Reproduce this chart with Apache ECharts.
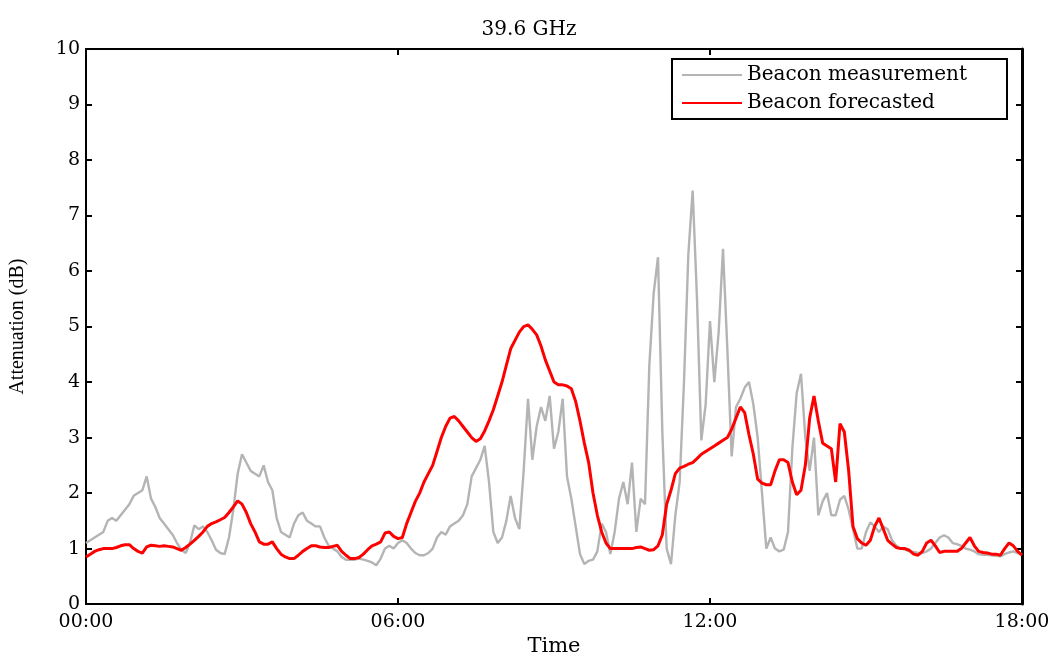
<!DOCTYPE html>
<html>
<head>
<meta charset="utf-8">
<script src="https://cdn.jsdelivr.net/npm/echarts@6/dist/echarts.min.js"></script>
<style>
html,body{margin:0;padding:0;background:#fff;}
#chart{width:1058px;height:662px;}
</style>
</head>
<body>
<div id="chart"></div>
<script>
// Time step of samples in minutes (00:00 -> 18:00)
const stepMinutes = 5;
const xTickLabels = ['00:00', '06:00', '12:00', '18:00'];
const seriesNames = ['Beacon measurement', 'Beacon forecasted'];

// Beacon measurement (dB), one value every 5 minutes
const measurement = [
  1.1, 1.15, 1.2, 1.25, 1.3, 1.5, 1.55, 1.5, 1.6, 1.7, 1.8, 1.95,
  2.0, 2.05, 2.3, 1.9, 1.75, 1.55, 1.45, 1.35, 1.25, 1.1, 0.98, 0.92,
  1.1, 1.42, 1.35, 1.4, 1.3, 1.15, 0.98, 0.92, 0.9, 1.2, 1.7, 2.35,
  2.7, 2.55, 2.4, 2.35, 2.3, 2.5, 2.2, 2.05, 1.55, 1.3, 1.25, 1.2,
  1.45, 1.6, 1.65, 1.5, 1.45, 1.4, 1.4, 1.2, 1.05, 1.0, 0.95, 0.85,
  0.8, 0.8, 0.8, 0.82, 0.8, 0.78, 0.75, 0.7, 0.82, 1.0, 1.05, 1.0,
  1.1, 1.15, 1.1, 1.0, 0.92, 0.88, 0.88, 0.92, 1.0, 1.2, 1.3, 1.25,
  1.4, 1.45, 1.5, 1.6, 1.8, 2.3, 2.45, 2.6, 2.85, 2.2, 1.3, 1.1,
  1.2, 1.5, 1.95, 1.55, 1.35, 2.4, 3.7, 2.6, 3.2, 3.55, 3.3, 3.75,
  2.8, 3.1, 3.7, 2.3, 1.9, 1.4, 0.9, 0.72, 0.78, 0.8, 0.95, 1.45,
  1.3, 0.9, 1.3, 1.9, 2.2, 1.8, 2.55, 1.3, 1.9, 1.8, 4.3, 5.6,
  6.25, 3.1, 1.0, 0.72, 1.6, 2.2, 4.0, 6.3, 7.45, 5.5, 2.95, 3.6,
  5.1, 4.0, 4.9, 6.4, 4.6, 2.66, 3.55, 3.7, 3.9, 4.0, 3.6, 3.0,
  2.0, 1.0, 1.2, 1.0, 0.95, 0.98, 1.3, 2.8, 3.8, 4.15, 3.0, 2.4,
  3.0, 1.6, 1.85, 2.0, 1.6, 1.6, 1.88, 1.95, 1.7, 1.35, 1.0, 1.0,
  1.3, 1.47, 1.4, 1.3, 1.4, 1.35, 1.15, 1.05, 1.0, 0.98, 0.95, 0.94,
  0.92, 0.92, 0.95, 1.0, 1.1, 1.2, 1.24, 1.2, 1.1, 1.08, 1.05, 1.0,
  0.98, 0.95, 0.9, 0.89, 0.89, 0.88, 0.87, 0.86, 0.9, 0.93, 0.95, 0.92,
  0.9
];

// Beacon forecasted (dB), one value every 5 minutes
const forecasted = [
  0.85, 0.9, 0.95, 0.98, 1.0, 1.0, 1.0, 1.02, 1.05, 1.07, 1.07, 1.0,
  0.95, 0.92, 1.03, 1.06, 1.05, 1.04, 1.05, 1.04, 1.03, 1.0, 0.97, 1.02,
  1.08, 1.15, 1.22, 1.3, 1.4, 1.45, 1.48, 1.52, 1.56, 1.65, 1.75, 1.86,
  1.8, 1.65, 1.45, 1.3, 1.12, 1.08, 1.08, 1.12, 1.0, 0.9, 0.85, 0.82,
  0.82, 0.88, 0.95, 1.0, 1.05, 1.05, 1.03, 1.02, 1.02, 1.04, 1.06, 0.95,
  0.88, 0.82, 0.82, 0.84, 0.9, 0.98, 1.05, 1.08, 1.12, 1.28, 1.3, 1.22,
  1.18, 1.2, 1.45, 1.65, 1.85, 2.0, 2.2, 2.35, 2.5, 2.75, 3.0, 3.2,
  3.35, 3.38, 3.3, 3.2, 3.1, 3.0, 2.93, 2.98, 3.12, 3.3, 3.5, 3.75,
  4.0, 4.3, 4.6, 4.75, 4.9, 5.0, 5.03, 4.95, 4.85, 4.65, 4.4, 4.2,
  4.0, 3.95, 3.95, 3.93, 3.88, 3.65, 3.3, 2.9, 2.55, 2.0, 1.6, 1.3,
  1.1, 1.0, 1.0, 1.0, 1.0, 1.0, 1.0, 1.02, 1.03, 1.0, 0.97, 0.98,
  1.05, 1.25, 1.8, 2.05, 2.35, 2.45, 2.48, 2.52, 2.55, 2.62, 2.7, 2.75,
  2.8, 2.85, 2.9, 2.95, 3.0, 3.15, 3.35, 3.55, 3.45, 3.05, 2.7, 2.25,
  2.18, 2.15, 2.15, 2.4, 2.6, 2.6, 2.55, 2.2, 1.97, 2.05, 2.5, 3.35,
  3.75, 3.3, 2.9, 2.85, 2.8, 2.2, 3.25, 3.1, 2.4, 1.4, 1.18, 1.1,
  1.06, 1.15, 1.4, 1.55, 1.35, 1.15, 1.08, 1.02, 1.0, 1.0, 0.97, 0.9,
  0.88, 0.95, 1.1, 1.15, 1.05, 0.93, 0.95, 0.95, 0.95, 0.95, 1.0, 1.1,
  1.2, 1.05, 0.95, 0.93, 0.92, 0.9, 0.9, 0.88, 1.0, 1.1, 1.05, 0.95,
  0.88
];

const toPairs = arr => arr.map((v, i) => [i * stepMinutes, v]);
const fmtTime = m => {
  const idx = Math.round(m / 360);
  return xTickLabels[idx] !== undefined ? xTickLabels[idx] : '';
};

const serif = 'DejaVu Serif';
const chart = echarts.init(document.getElementById('chart'), null, {renderer: 'canvas'});
const xBase = {
  type: 'value', min: 0, max: 1080, interval: 360,
  splitLine: {show: false},
  axisLine: {show: true, onZero: false, lineStyle: {color: '#000', width: 2}},
  axisTick: {show: true, inside: true, length: 6, lineStyle: {color: '#000', width: 2}}
};
const yBase = {
  type: 'value', min: 0, max: 10, interval: 1,
  splitLine: {show: false},
  axisLine: {show: true, onZero: false, lineStyle: {color: '#000', width: 2}},
  axisTick: {show: true, inside: true, length: 6, lineStyle: {color: '#000', width: 2}}
};

chart.setOption({
  animation: false,
  backgroundColor: '#fff',
  title: {
    text: '39.6 GHz', left: 'center', top: 15,
    textStyle: {fontFamily: serif, fontSize: 20, fontWeight: 'normal', color: '#000'}
  },
  legend: {
    orient: 'vertical', left: 672, top: 59,
    data: seriesNames,
    icon: 'rect', itemWidth: 60, itemHeight: 2, itemGap: 4,
    padding: [4, 8, 4, 10],
    borderColor: '#000', borderWidth: 2, backgroundColor: '#fff',
    textStyle: {fontFamily: serif, fontSize: 20, color: '#000', lineHeight: 24, width: 252}
  },
  grid: {left: 86, right: 36, top: 49, bottom: 49, containLabel: false},
  xAxis: [
    Object.assign({}, xBase, {
      position: 'bottom',
      name: 'Time', nameLocation: 'middle', nameGap: 30,
      nameTextStyle: {fontFamily: serif, fontSize: 21, color: '#000'},
      axisLabel: {formatter: fmtTime, fontFamily: serif, fontSize: 19, color: '#000', margin: 8}
    }),
    Object.assign({}, xBase, {position: 'top', axisLabel: {show: false}})
  ],
  yAxis: [
    Object.assign({}, yBase, {
      position: 'left',
      name: 'Attenuation (dB)', nameLocation: 'middle', nameGap: 58, nameRotate: 90,
      nameTextStyle: {fontFamily: 'Liberation Serif', fontSize: 20, color: '#000'},
      axisLabel: {fontFamily: serif, fontSize: 19, color: '#000', margin: 6}
    }),
    Object.assign({}, yBase, {position: 'right', axisLabel: {show: false},
      axisLine: {show: true, onZero: false, lineStyle: {color: '#000', width: 3}}})
  ],
  series: [
    {
      name: seriesNames[0], type: 'line', xAxisIndex: 0, yAxisIndex: 0,
      data: toPairs(measurement), symbol: 'none',
      lineStyle: {color: '#b4b4b4', width: 2.4}, itemStyle: {color: '#b4b4b4'}
    },
    {
      name: seriesNames[1], type: 'line', xAxisIndex: 0, yAxisIndex: 0,
      data: toPairs(forecasted), symbol: 'none',
      lineStyle: {color: '#ff0000', width: 3}, itemStyle: {color: '#ff0000'}
    }
  ]
});
</script>
</body>
</html>
